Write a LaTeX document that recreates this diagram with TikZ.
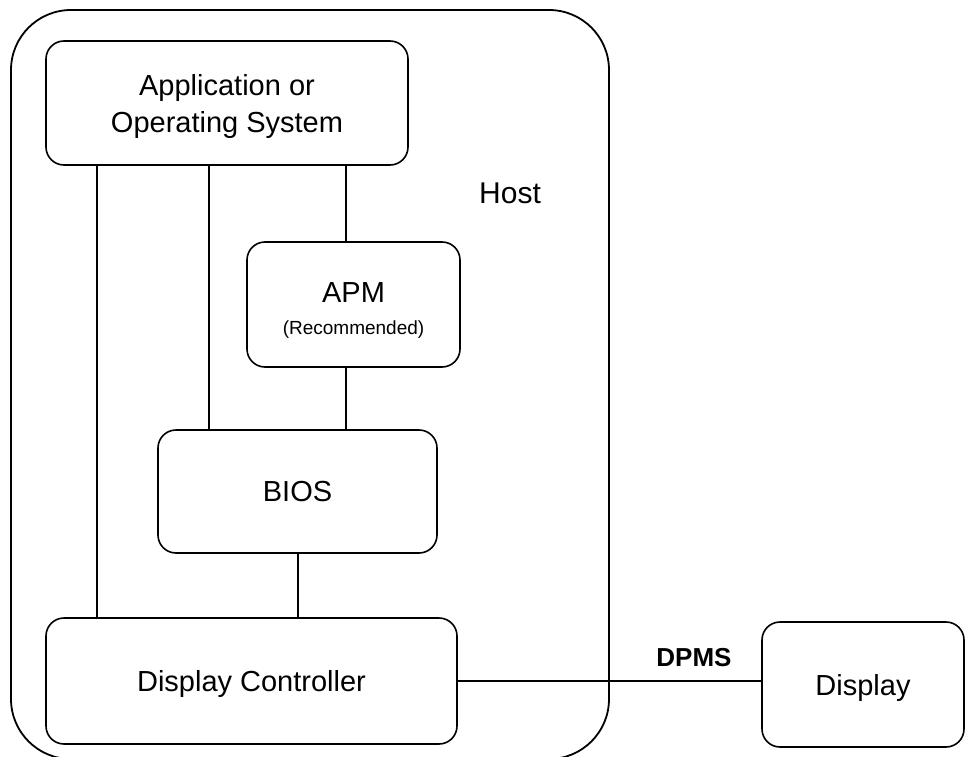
\documentclass[tikz,border=0pt]{standalone}
\usepackage{fontspec}
\setmainfont{Liberation Sans}
\begin{document}
\begin{tikzpicture}[x=1pt,y=-1pt,
  box/.style={draw,line width=1.6pt,rounded corners=18pt,inner sep=0pt,
    font=\fontsize{29}{37}\selectfont,align=center,text depth=0pt},
  conn/.style={line width=1.6pt}]
\clip (0,0) rectangle (966,757);
\fill[white] (0,0) rectangle (966,757);
% host
\draw[line width=1.8pt,rounded corners=60pt] (11,10) rectangle (609,759);
\node[font=\fontsize{30}{36}\selectfont] (host) at (510,193) {Host};
% boxes
\node[box,minimum width=362pt,minimum height=124pt] (app) at (227,103) {Application or\\Operating System};
\node[box,minimum width=213pt,minimum height=125pt] (apm) at (353.5,304.5) {};
\node[font=\fontsize{29}{36}\selectfont] (apmt) at (353.5,293) {APM};
\node[font=\fontsize{19}{24}\selectfont] (rec) at (353.5,330) {(Recommended)};
\node[box,minimum width=279pt,minimum height=123pt] (bios) at (297.5,491.5) {BIOS};
\node[box,minimum width=411pt,minimum height=126pt] (dc) at (251.5,681) {Display Controller};
\node[box,minimum width=202pt,minimum height=125pt] (disp) at (863,684.5) {Display};
\node[font=\bfseries\fontsize{26}{30}\selectfont] (dpms) at (694,658) {DPMS};
% x positions of connectors
\coordinate (x1) at (97,0);
\coordinate (x2) at (209,0);
\coordinate (x3) at (346,0);
\coordinate (x4) at (298,0);
% connectors
\draw[conn] (app.south -| x1) -- (dc.north -| x1);
\draw[conn] (app.south -| x2) -- (bios.north -| x2);
\draw[conn] (app.south -| x3) -- (apm.north -| x3);
\draw[conn] (apm.south -| x3) -- (bios.north -| x3);
\draw[conn] (bios.south -| x4) -- (dc.north -| x4);
\draw[conn] (dc.east) -- (dc.east -| disp.west);
\end{tikzpicture}
\end{document}
